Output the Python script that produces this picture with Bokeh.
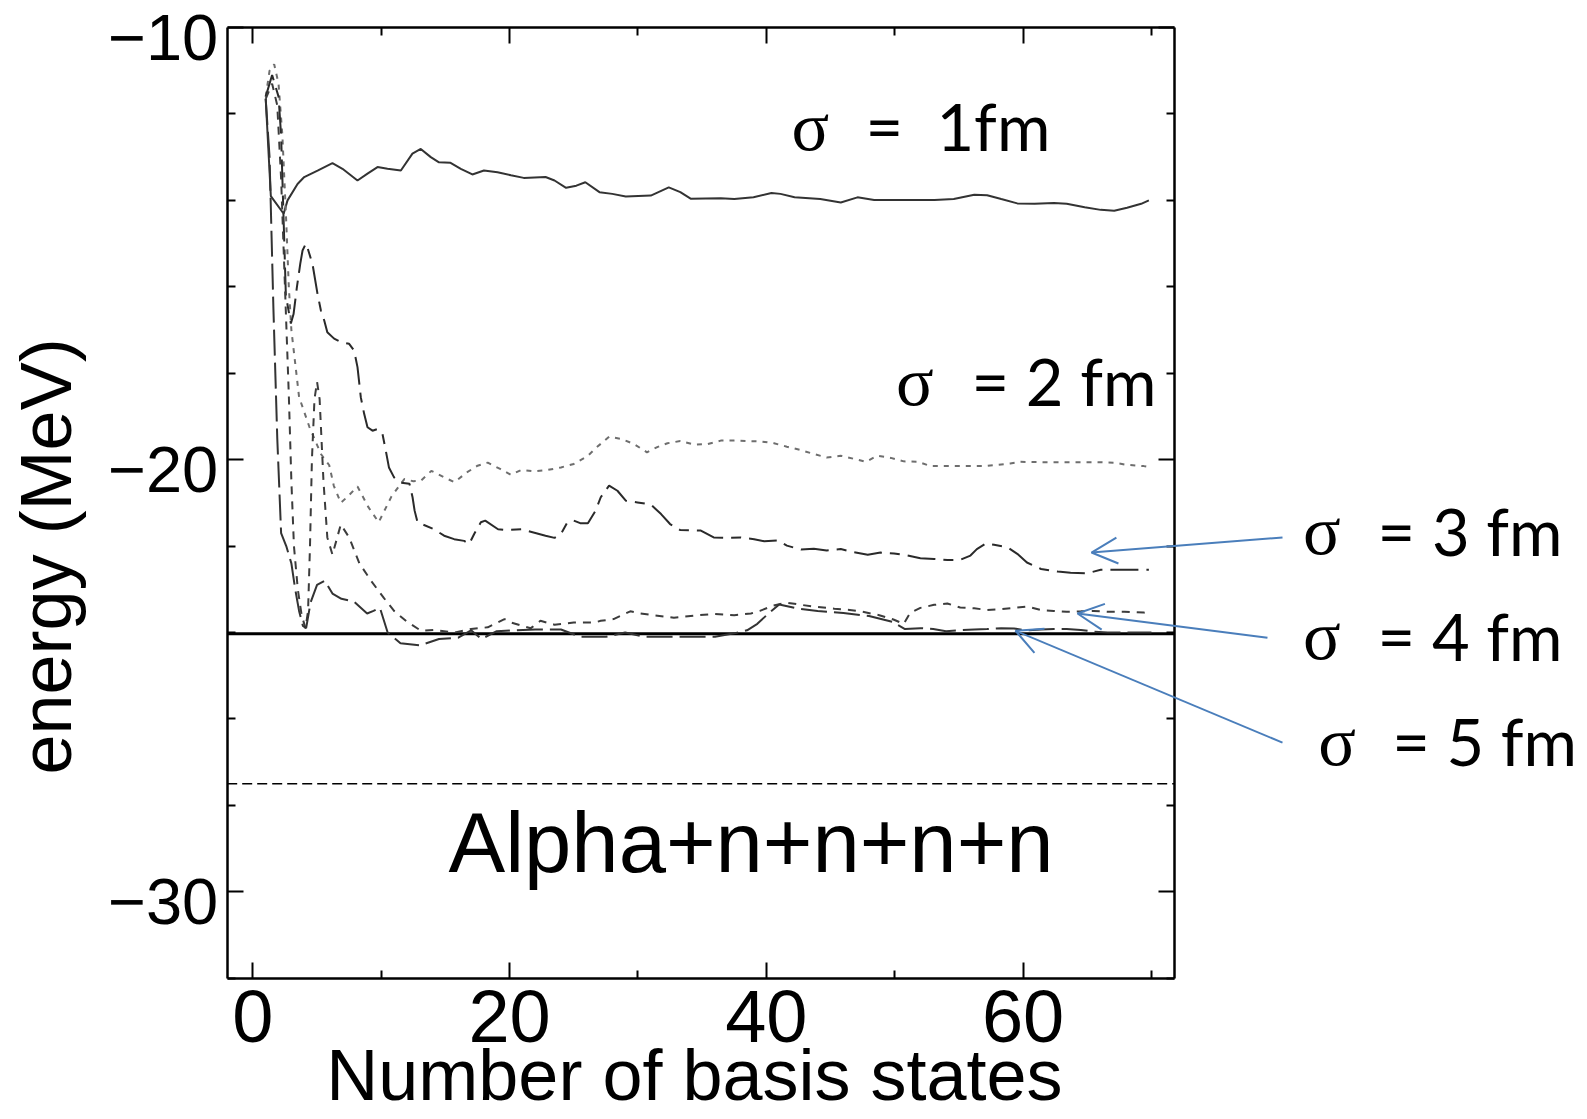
import numpy as np
from bokeh.plotting import figure
from bokeh.models import (Label, Arrow, OpenHead, LinearAxis, FixedTicker,
                          CustomJSTickFormatter, Range1d)
from bokeh.embed import file_html
from bokeh.resources import INLINE

# ---------------- data ----------------
s1_x = [1.0, 1.4, 2.4, 2.7, 3.48, 4.0, 5.04, 6.2, 6.98, 8.15, 8.93, 9.71, 10.49, 11.53, 12.43, 13.08,
        13.86, 14.5, 15.4, 16.2, 17.1, 18.0, 19.06, 20.1, 21.1, 22.8, 23.5, 24.4, 25.2, 25.9, 27.0,
        28.0, 29.05, 31.0, 32.4, 33.3, 34.1, 36.45, 37.5, 39.0, 40.4, 41.1, 42.2, 44.2, 45.8, 47.1,
        48.4, 50.5, 53.1, 54.6, 56.2, 57.2, 58.3, 59.55, 60.9, 62.4, 63.4, 64.8, 66.05, 67.1, 68.1,
        69.2, 69.8]
s1_y = [-11.65, -13.9, -14.31, -14.0, -13.62, -13.46, -13.31, -13.14, -13.27, -13.54, -13.38, -13.23,
        -13.27, -13.31, -12.92, -12.81, -13.0, -13.12, -13.13, -13.27, -13.4, -13.31, -13.35, -13.42,
        -13.48, -13.46, -13.54, -13.71, -13.66, -13.58, -13.81, -13.85, -13.91, -13.89, -13.7, -13.81,
        -13.96, -13.95, -13.97, -13.93, -13.83, -13.85, -13.93, -13.97, -14.05, -13.93, -13.99, -13.99,
        -13.99, -13.97, -13.87, -13.88, -13.97, -14.07, -14.08, -14.06, -14.08, -14.16, -14.22, -14.24,
        -14.17, -14.08, -14.0]

s2_x = [1.0, 1.3, 1.66, 2.0, 2.3, 2.6, 2.8, 3.0, 3.6, 4.4, 5.3, 5.95, 6.3, 6.85, 7.4, 8.15, 9.0, 9.8,
        10.8, 11.8, 12.5, 13.08, 13.9, 14.9, 15.7, 16.7, 17.5, 18.3, 19.3, 20.1, 20.9, 21.9, 22.95, 24.0,
        25.0, 26.1, 26.8, 27.75, 28.7, 29.7, 30.7, 31.5, 32.3, 33.3, 34.4, 35.4, 36.45, 37.5, 38.5, 39.6,
        40.6, 41.6, 42.7, 43.7, 44.7, 45.8, 46.8, 47.75, 48.65, 49.7, 50.7, 51.8, 52.8, 54.9, 57.0, 59.0,
        59.8, 61.9, 64.0, 66.0, 67.06, 68.1, 69.4, 70.0]
s2_y = [-11.6, -11.0, -10.85, -11.3, -12.5, -14.5, -16.0, -17.0, -18.55, -19.24, -19.87, -20.13, -20.6,
        -21.0, -20.85, -20.62, -21.1, -21.45, -20.85, -20.45, -20.5, -20.49, -20.26, -20.41, -20.52,
        -20.29, -20.14, -20.07, -20.22, -20.35, -20.24, -20.27, -20.24, -20.18, -20.1, -19.91, -19.71,
        -19.47, -19.52, -19.64, -19.83, -19.71, -19.62, -19.57, -19.65, -19.64, -19.56, -19.56, -19.57,
        -19.58, -19.62, -19.7, -19.78, -19.87, -19.95, -19.91, -19.98, -20.05, -19.91, -19.96, -20.04,
        -20.05, -20.15, -20.15, -20.15, -20.09, -20.05, -20.06, -20.06, -20.06, -20.07, -20.12, -20.15,
        -20.18]

s3_x = [1.0, 1.5, 2.0, 2.2, 2.4, 2.57, 2.96, 3.17, 3.43, 3.69, 3.87, 4.13, 4.26, 4.65, 5.04, 5.3, 5.56,
        5.8, 6.33, 6.85, 7.5, 7.89, 8.15, 8.41, 8.67, 8.93, 9.32, 9.71, 10.1, 10.36, 10.6, 11.0, 11.5,
        12.2, 12.44, 12.6, 12.83, 14.1, 14.9, 15.68, 16.46, 16.85, 17.24, 17.76, 18.1, 19.1, 19.8, 20.9,
        22.8, 23.5, 24.0, 24.5, 25.0, 25.5, 26.1, 26.7, 27.1, 27.75, 28.4, 29.05, 29.96, 31.0, 31.8, 32.5,
        33.3, 34.9, 35.9, 36.97, 38.0, 39.05, 39.83, 40.9, 41.6, 42.7, 43.7, 44.7, 45.8, 46.8, 47.9, 48.9,
        49.95, 51.0, 52.0, 53.07, 54.1, 55.1, 55.9, 56.4, 57.1, 57.74, 58.8, 59.55, 60.3, 61.4, 62.7, 63.7,
        65.0, 66.05, 67.6, 69.8]
s3_y = [-11.6, -11.1, -11.6, -12.5, -14.5, -16.2, -16.85, -16.63, -16.01, -15.47, -15.16, -15.0, -15.1,
        -15.48, -16.17, -16.55, -16.78, -17.05, -17.2, -17.28, -17.32, -17.48, -17.86, -18.56, -18.94,
        -19.25, -19.33, -19.29, -19.41, -19.8, -20.18, -20.41, -20.53, -20.56, -20.87, -21.18, -21.45,
        -21.61, -21.76, -21.84, -21.88, -21.95, -21.72, -21.45, -21.41, -21.61, -21.63, -21.61, -21.76,
        -21.81, -21.72, -21.45, -21.41, -21.47, -21.47, -21.18, -20.87, -20.6, -20.72, -20.95, -20.99,
        -21.04, -21.26, -21.49, -21.63, -21.64, -21.8, -21.81, -21.8, -21.84, -21.89, -21.87, -21.99,
        -22.08, -22.06, -22.1, -22.07, -22.14, -22.2, -22.15, -22.17, -22.22, -22.28, -22.3, -22.32,
        -22.32, -22.22, -22.07, -21.94, -21.97, -22.03, -22.18, -22.38, -22.53, -22.59, -22.62, -22.63,
        -22.55, -22.55, -22.55]

s4_x = [1.0, 1.5, 1.9, 2.2, 2.5, 2.8, 3.0, 3.2, 3.5, 3.8, 4.1, 4.3, 4.45, 4.6, 4.8, 5.0, 5.2, 5.5, 5.8,
        6.2, 6.85, 7.5, 8.3, 9.2, 10.2, 11.0, 12.0, 13.1, 14.1, 15.7, 17.0, 18.3, 19.6, 20.1, 20.9, 21.65,
        22.4, 23.5, 25.0, 26.6, 27.1, 28.1, 29.4, 30.2, 31.2, 32.8, 34.4, 35.9, 37.5, 38.8, 39.5, 40.5,
        41.6, 42.7, 43.7, 45.3, 46.5, 47.5, 48.8, 49.9, 50.7, 51.2, 52.0, 53.07, 54.1, 55.1, 56.2, 57.2,
        58.3, 59.3, 60.3, 61.4, 62.4, 63.4, 64.5, 65.5, 66.6, 67.9, 69.4, 70.0]
s4_y = [-11.65, -11.3, -11.8, -13.5, -16.0, -18.5, -20.5, -22.0, -23.0, -23.6, -23.9, -23.5, -22.0, -20.0,
        -18.6, -18.2, -18.6, -20.5, -21.8, -22.2, -21.5, -21.8, -22.4, -22.8, -23.2, -23.5, -23.75, -23.96,
        -23.94, -24.0, -23.92, -23.88, -23.69, -23.77, -23.84, -23.9, -23.73, -23.82, -23.77, -23.77,
        -23.73, -23.69, -23.51, -23.56, -23.6, -23.66, -23.61, -23.57, -23.6, -23.56, -23.5, -23.38,
        -23.31, -23.36, -23.4, -23.45, -23.48, -23.52, -23.6, -23.7, -23.8, -23.55, -23.43, -23.36,
        -23.33, -23.42, -23.44, -23.48, -23.46, -23.43, -23.4, -23.48, -23.5, -23.52, -23.51, -23.5,
        -23.52, -23.52, -23.54, -23.55]

s5_x = [1.0, 1.3, 1.6, 1.9, 2.2, 2.6, 3.0, 3.3, 3.6, 3.9, 4.15, 4.5, 5.0, 5.6, 6.2, 6.9, 7.9, 8.9, 9.4,
        9.9, 10.5, 11.5, 13.0, 14.5, 16.0, 17.0, 17.8, 19.0, 20.5, 22.0, 24.0, 25.5, 27.5, 29.0, 30.5,
        33.0, 36.0, 37.5, 38.5, 39.3, 40.2, 41.0, 42.5, 44.0, 46.0, 48.0, 49.8, 50.8, 52.0, 53.0, 54.0,
        55.0, 56.2, 57.2, 58.3, 59.3, 60.3, 61.4, 62.4, 63.4, 64.5, 65.5, 66.6, 67.9, 69.4, 70.0]
s5_y = [-11.65, -13.0, -16.5, -19.5, -21.7, -22.0, -22.4, -23.0, -23.5, -23.85, -23.9, -23.3, -22.9,
        -22.8, -23.1, -23.22, -23.29, -23.56, -23.5, -23.43, -24.0, -24.25, -24.3, -24.15, -24.12,
        -23.95, -24.15, -23.97, -23.95, -23.93, -23.93, -24.1, -24.1, -24.0, -24.1, -24.1, -24.1, -24.02,
        -23.95, -23.8, -23.55, -23.35, -23.45, -23.5, -23.55, -23.62, -23.75, -23.92, -23.9, -23.92,
        -23.97, -23.95, -23.93, -23.92, -23.9, -23.91, -23.95, -23.93, -23.92, -23.92, -23.94, -23.98,
        -24.0, -24.0, -24.0, -24.0]

four_n_threshold = -24.03     # solid horizontal line
alpha_4n_threshold = -27.5    # dashed horizontal line

x_major_ticks = [0, 20, 40, 60]
x_minor_ticks = [10, 30, 50, 70]
y_major_ticks = [-30, -20, -10]
y_minor_ticks = [-32, -28, -26, -24, -22, -18, -16, -14, -12]
y_tick_labels = {-30: "\u221230", -20: "\u221220", -10: "\u221210"}

sigma_rest = ["=\u00a0 1fm", "= 2 fm", "= 3 fm", "= 4 fm", "= 5 fm"]
alpha_text = "Alpha+n+n+n+n"
x_title = "Number of basis states"
y_title = "energy (MeV)"

# plot box (data limits of the framed area)
X_LO, X_HI = -2.0, 71.8
Y_LO, Y_HI = -32.0, -10.0

# ---------------- figure ----------------
W, H = 1587, 1119
p = figure(width=W, height=H, x_range=Range1d(-19.66, 103.97), y_range=Range1d(-35.27, -9.375),
           output_backend="svg", toolbar_location=None,
           min_border_left=0, min_border_right=0, min_border_top=0, min_border_bottom=0,
           x_axis_location=None, y_axis_location=None)
p.grid.visible = False
p.outline_line_color = None
p.background_fill_color = "white"
p.border_fill_color = "white"

LABEL_SHIFT = 0.231
p.extra_y_ranges = {"lab": Range1d(-35.27 + LABEL_SHIFT, -9.375 + LABEL_SHIFT)}


def tick_axis(ax, ticks, minors):
    ax.ticker = FixedTicker(ticks=ticks, minor_ticks=minors)
    ax.axis_line_color = "black"
    ax.axis_line_width = 2.5
    ax.major_tick_in = 16
    ax.major_tick_out = 0
    ax.minor_tick_in = 8
    ax.minor_tick_out = 0
    ax.major_tick_line_width = 2
    ax.minor_tick_line_width = 2
    ax.major_tick_line_color = "black"
    ax.minor_tick_line_color = "black"
    ax.major_label_text_font = "Liberation Sans"
    ax.major_label_text_color = "black"


def blank_labels(ax):
    ax.formatter = CustomJSTickFormatter(code="return ''")
    ax.major_label_text_font_size = "0px"
    ax.major_label_standoff = 0


xb = LinearAxis(fixed_location=Y_LO, bounds=(X_LO, X_HI))
tick_axis(xb, x_major_ticks, x_minor_ticks)
xb.major_label_text_font_size = "74px"
xb.major_label_standoff = 13
p.add_layout(xb, "below")

xt = LinearAxis(fixed_location=Y_HI, bounds=(X_LO, X_HI))
tick_axis(xt, x_major_ticks, x_minor_ticks)
blank_labels(xt)
p.add_layout(xt, "above")

yl = LinearAxis(fixed_location=X_LO, bounds=(Y_LO, Y_HI))
tick_axis(yl, y_major_ticks, y_minor_ticks)
blank_labels(yl)
p.add_layout(yl, "left")

# tick labels of the left axis (drawn a little below their ticks, as in the original)
ylab = LinearAxis(fixed_location=X_LO, y_range_name="lab", bounds=(Y_LO - 0.5, Y_HI + 0.5))
ylab.ticker = FixedTicker(ticks=y_major_ticks)
ylab.axis_line_color = None
ylab.major_tick_line_color = None
ylab.minor_tick_line_color = None
ylab.major_tick_in = 0
ylab.major_tick_out = 0
ylab.major_label_overrides = y_tick_labels
ylab.major_label_text_font = "Liberation Sans"
ylab.major_label_text_font_size = "65px"
ylab.major_label_text_color = "black"
ylab.major_label_standoff = 9
p.add_layout(ylab, "left")

yr = LinearAxis(fixed_location=X_HI, bounds=(Y_LO, Y_HI))
tick_axis(yr, y_major_ticks, y_minor_ticks)
blank_labels(yr)
p.add_layout(yr, "right")

# threshold lines across the plot box
p.line([X_LO, X_HI], [four_n_threshold, four_n_threshold], line_color="black", line_width=3)
p.line([X_LO, X_HI], [alpha_4n_threshold, alpha_4n_threshold], line_color="black",
       line_width=1.6, line_dash="10 5")

# curves
p.line(s1_x, s1_y, line_color="#333333", line_width=2)
p.line(s2_x, s2_y, line_color="#6e6e6e", line_width=2, line_dash="5 6")
p.line(s3_x, s3_y, line_color="#2a2a2a", line_width=2, line_dash="28 8 10 8")
p.line(s4_x, s4_y, line_color="#3c3c3c", line_width=2, line_dash="8 7")
p.line(s5_x, s5_y, line_color="#333333", line_width=2, line_dash="26 7")

# axis titles
p.add_layout(Label(x=34.4, y=-34.25, text=x_title, text_align="center", text_baseline="alphabetic",
                   text_font="Liberation Sans", text_font_size="72px", text_color="black"))
p.add_layout(Label(x=-16.09, y=-22.24, text=y_title, angle=np.pi / 2, text_align="center",
                   text_baseline="middle", text_font="Liberation Sans", text_font_size="72px",
                   text_color="black"))

# sigma annotations
sig_x = [41.96, 50.1, 81.8, 81.8, 83.0]
rest_x = [47.72, 55.98, 87.62, 87.62, 88.75]
base_y = [-12.29, -18.19, -21.64, -24.07, -26.52]
for sx, rx, by, rt in zip(sig_x, rest_x, base_y, sigma_rest):
    p.add_layout(Label(x=sx, y=by, text="\u03c3", text_align="left", text_baseline="alphabetic",
                       text_font="Liberation Serif", text_font_size="70px", text_color="black"))
    p.add_layout(Label(x=rx, y=by, text=rt, text_align="left", text_baseline="alphabetic",
                       text_font="Lato", text_font_size="65px", text_color="black"))

p.add_layout(Label(x=15.24, y=-28.86, text=alpha_text, text_align="left", text_baseline="alphabetic",
                   text_font="Liberation Sans", text_font_size="85px", text_color="black"))

# blue arrows
arrow_color = "#4a7ebb"
arrows = [((80.21, -21.80), (65.33, -22.15)),
          ((79.04, -24.12), (64.24, -23.56)),
          ((80.21, -26.55), (59.41, -23.96))]
for (x0, y0), (x1, y1) in arrows:
    p.add_layout(Arrow(x_start=x0, y_start=y0, x_end=x1, y_end=y1, line_color=arrow_color,
                       line_width=2,
                       end=OpenHead(size=26, line_color=arrow_color, line_width=2)))

open("out.html", "w").write(file_html(p, INLINE))
